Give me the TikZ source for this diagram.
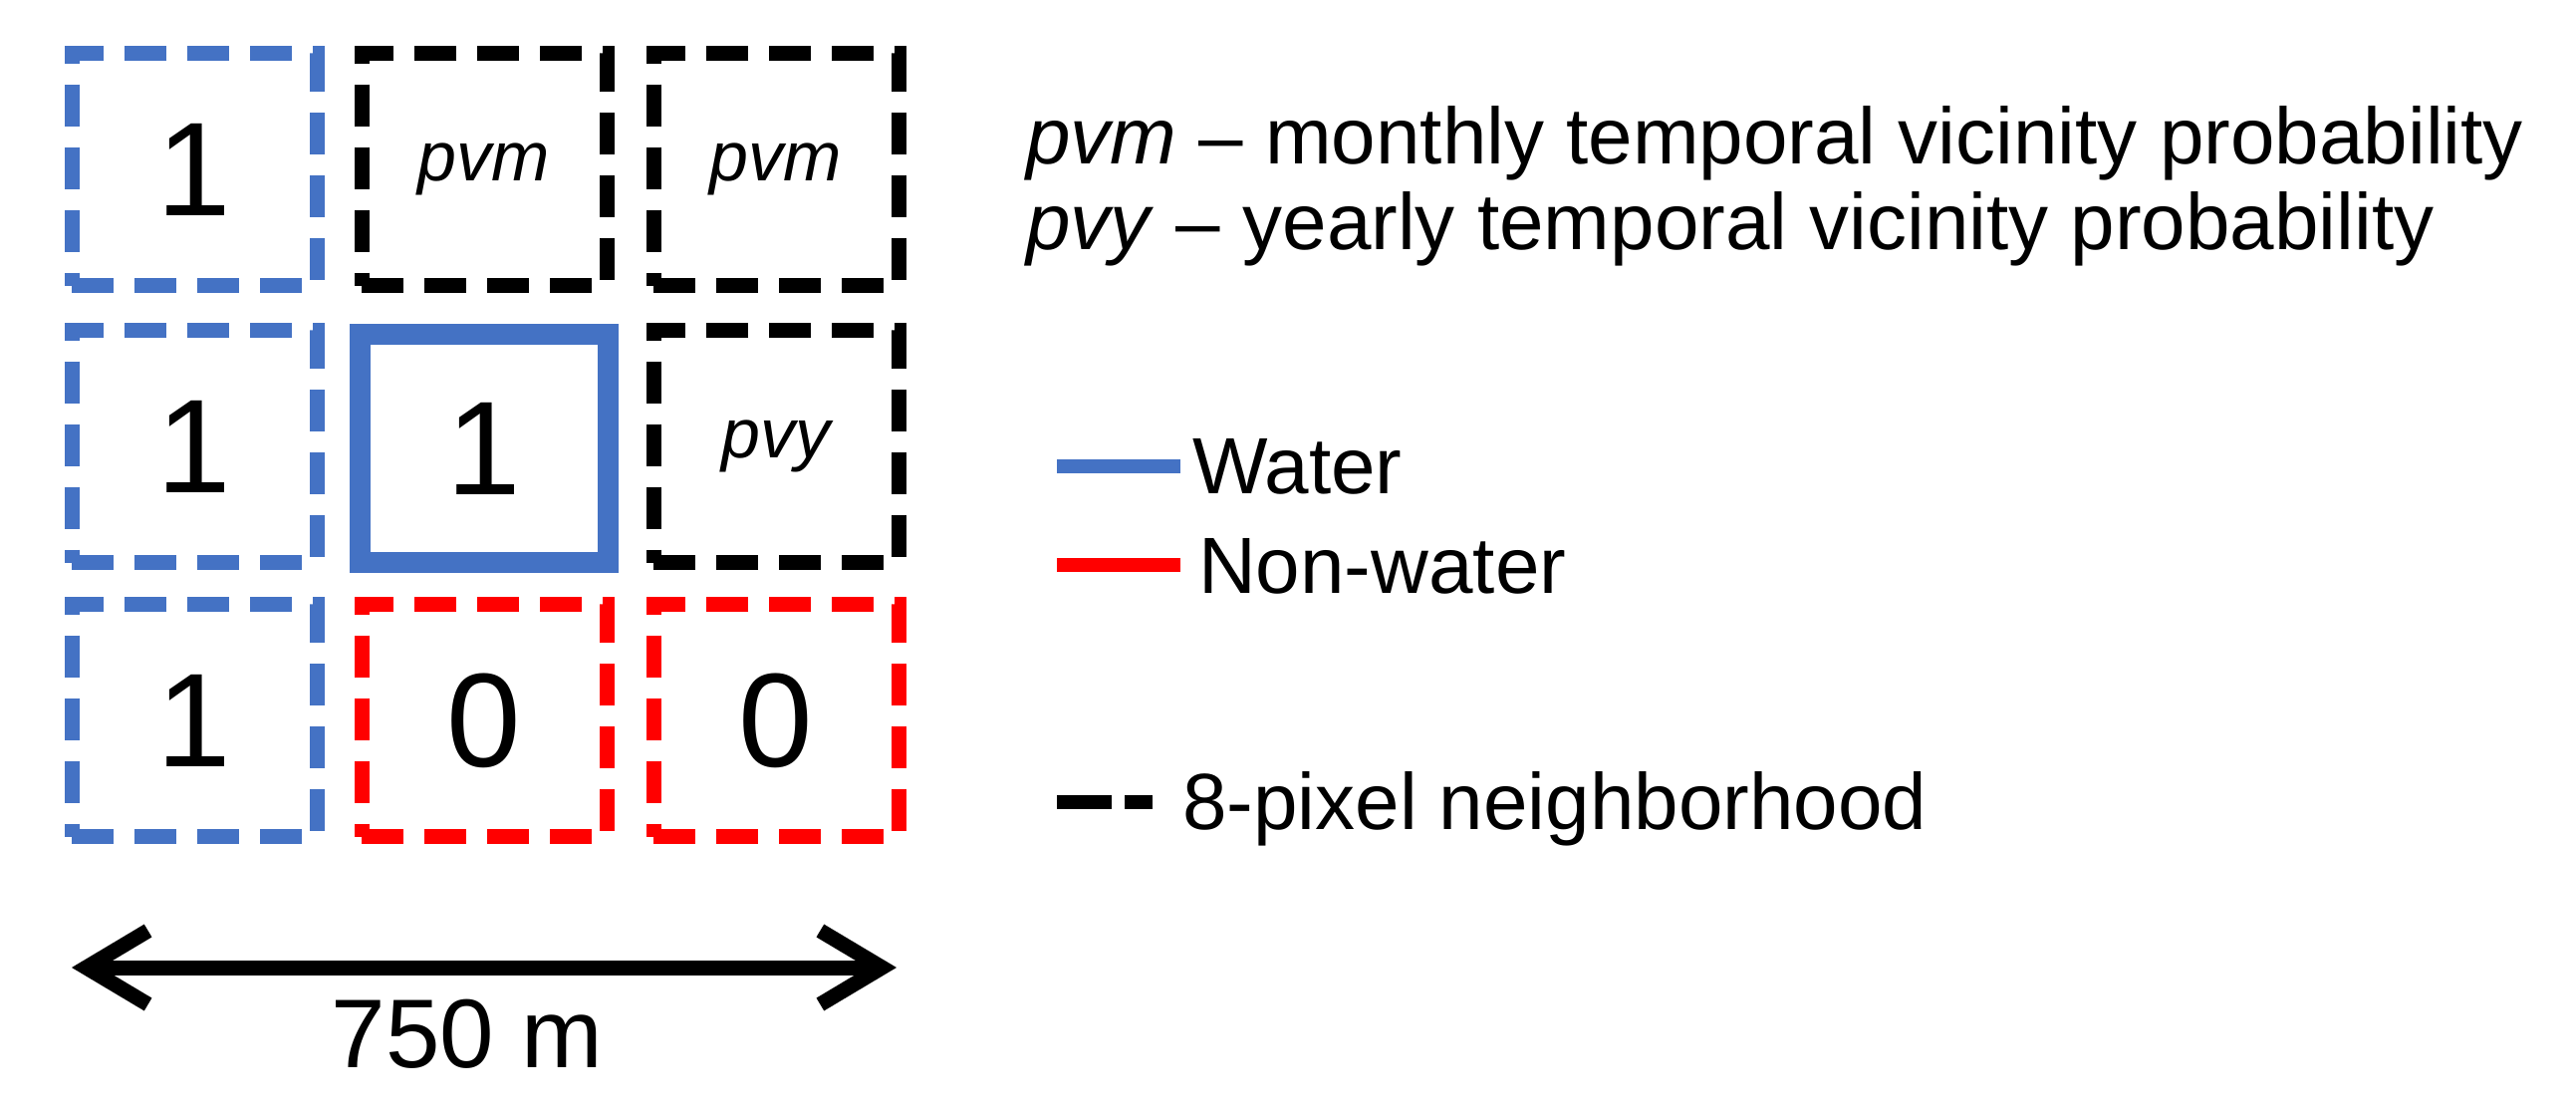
\documentclass[tikz,border=0pt]{standalone}
\usepackage{fontspec}
\setmainfont{Liberation Sans}
\usetikzlibrary{arrows.meta}
\definecolor{wblue}{HTML}{4472C4}
\definecolor{nred}{HTML}{FF0000}
\tikzset{barbtip/.tip={Straight Barb[length=62pt,width=74pt,line width=15pt]}}
\begin{document}
\begin{tikzpicture}[x=1pt,y=-1pt,
  cell/.style={draw,line width=15pt,dash pattern=on 42pt off 21pt,minimum width=246pt,minimum height=233pt,inner sep=0pt,font=\fontsize{134}{134}\selectfont},
  wcell/.style={cell,draw=wblue},
  kcell/.style={cell,draw=black,font=\fontsize{70}{70}\selectfont\itshape},
  rcell/.style={cell,draw=nred},
  leg/.style={anchor=base west,inner sep=0pt,font=\fontsize{80}{80}\selectfont}]
\useasboundingbox (0,0) rectangle (2586,1119);
\node[wcell] (a1) at (195,170) {1};
\node[kcell] (a2) at (486,170) {pvm};
\node[kcell] (a3) at (779,170) {pvm};
\node[wcell] (b1) at (195,448) {1};
\node[draw=wblue,line width=21pt,minimum width=249pt,minimum height=229pt,inner sep=0pt,font=\fontsize{134}{134}\selectfont] (b2) at (486,450) {1};
\node[kcell] (b3) at (779,448) {pvy};
\node[wcell] (c1) at (195,723) {1};
\node[rcell] (c2) at (486,723) {0};
\node[rcell] (c3) at (779,723) {0};
\coordinate (aL) at (72,971);
\coordinate (aR) at (900,971);
\draw[line width=15pt,barbtip-barbtip] (aL) -- (aR);
\node[anchor=base,inner sep=0pt,font=\fontsize{98}{98}\selectfont] (dist) at (469,1071) {750 m};
\node[leg] (l1) at (1030,164) {\textit{pvm} -- monthly temporal vicinity probability};
\node[leg] (l2) at (1030,250) {\textit{pvy} -- yearly temporal vicinity probability};
\coordinate (w1) at (1061,468); \coordinate (w2) at (1185,468);
\draw[wblue,line width=14pt] (w1) -- (w2);
\node[leg] (lw) at (1197,495) {Water};
\coordinate (n1) at (1061,567); \coordinate (n2) at (1185,567);
\draw[nred,line width=14pt] (n1) -- (n2);
\node[leg] (ln) at (1203,595) {Non-water};
\coordinate (d1) at (1061,805); \coordinate (d2) at (1157,805);
\draw[black,line width=14pt,dash pattern=on 55pt off 13pt] (d1) -- (d2);
\node[leg] (ld) at (1187,832) {8-pixel neighborhood};
\end{tikzpicture}
\end{document}
